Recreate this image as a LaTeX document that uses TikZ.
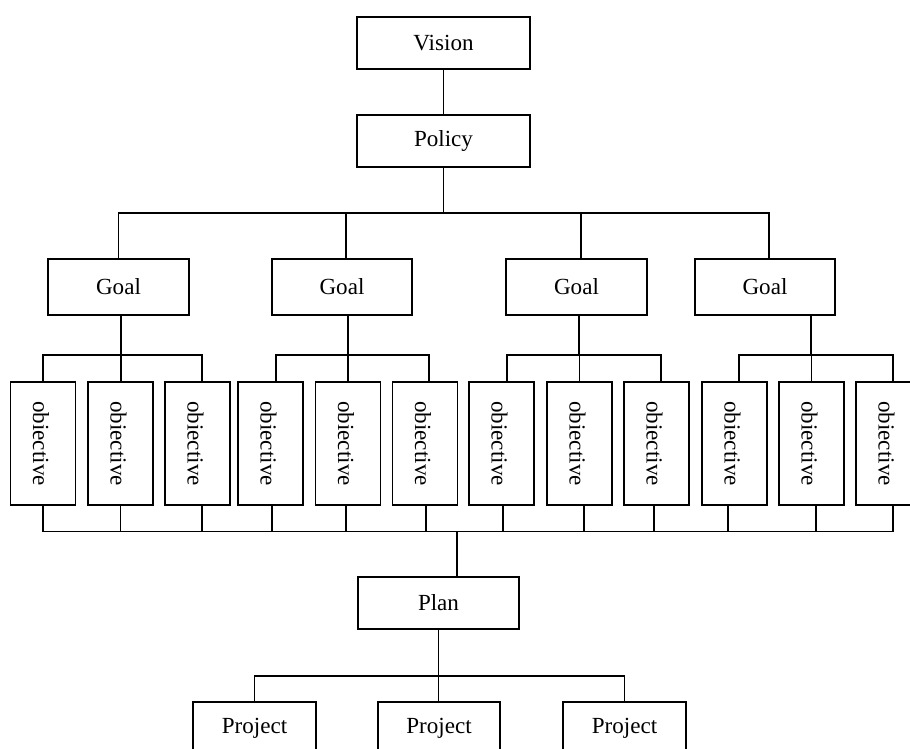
\documentclass[tikz,border=0pt]{standalone}
\usepackage{fontspec}
\setmainfont{Liberation Serif}
\usetikzlibrary{calc}
\begin{document}
\begin{tikzpicture}[x=0.75pt,y=-0.75pt,line width=1.1pt,
  box/.style={draw,line width=1.1pt,inner sep=0pt,fill=white,font=\fontsize{17.3}{20}\selectfont},
  sz/.style 2 args={minimum width=#1*0.75pt,minimum height=#2*0.75pt},
  objbox/.style={box,sz={65}{123}}]
\useasboundingbox (0,0) rectangle (910,749);
\clip (0,0) rectangle (910,749);
\fill[white] (0,0) rectangle (910,749);

% top
\node[box,sz={173}{52}] (vision) at (443.5,43) {Vision};
\node[box,sz={173}{52}] (policy) at (443.5,141) {Policy};

% goals
\node[box,sz={141}{56}] (g1) at (118.5,287) {Goal};
\node[box,sz={140}{56}] (g2) at (342,287) {Goal};
\node[box,sz={141}{56}] (g3) at (576.5,287) {Goal};
\node[box,sz={140}{56}] (g4) at (765,287) {Goal};

% objectives
\foreach \i/\x in {1/43,2/120.5,3/197.5,4/270.5,5/348,6/425,7/501.5,8/579.5,9/656.5,10/734.5,11/811.5,12/888.5}{
  \node[objbox] (o\i) at (\x,443.5) {\hspace*{-3pt}\rotatebox{-90}{obiective}};
}

% plan and projects
\node[box,sz={161}{52}] (plan) at (438.5,603) {Plan};
\node[box,sz={123}{52}] (p1) at (254.5,728) {Project};
\node[box,sz={122}{52}] (p2) at (439,728) {Project};
\node[box,sz={123}{52}] (p3) at (624.5,728) {Project};

% bus levels
\coordinate (tb) at (0,213);
\coordinate (ob) at (0,355);
\coordinate (bb) at (0,531.5);
\coordinate (pb) at (0,676);

% vision - policy
\draw (vision.south) -- (policy.north);

% policy - goals
\draw (policy.south) -- (policy.south |- tb);
\draw (g1.north) -- (g1.north |- tb) -- ($(g4.north |- tb)+(4,0)$) -- ($(g4.north)+(4,0)$);
\draw ($(g2.north)+(4,0)$) -- ($(g2.north |- tb)+(4,0)$);
\draw ($(g3.north)+(4.5,0)$) -- ($(g3.north |- tb)+(4.5,0)$);

% goal 1 - objectives
\draw ($(g1.south)+(2.5,0)$) -- ($(g1.south |- ob)+(2.5,0)$);
\draw (o1.north) -- (o1.north |- ob) -- ($(o3.north |- ob)+(4.5,0)$) -- ($(o3.north)+(4.5,0)$);
\draw ($(o2.north)+(0.5,0)$) -- ($(o2.north |- ob)+(0.5,0)$);

% goal 2 - objectives
\draw ($(g2.south)+(6,0)$) -- ($(g2.south |- ob)+(6,0)$);
\draw ($(o4.north)+(5.5,0)$) -- ($(o4.north |- ob)+(5.5,0)$) -- ($(o6.north |- ob)+(4,0)$) -- ($(o6.north)+(4,0)$);
\draw (o5.north) -- (o5.north |- ob);

% goal 3 - objectives
\draw ($(g3.south)+(2.5,0)$) -- ($(g3.south |- ob)+(2.5,0)$);
\draw ($(o7.north)+(5.5,0)$) -- ($(o7.north |- ob)+(5.5,0)$) -- ($(o9.north |- ob)+(4.5,0)$) -- ($(o9.north)+(4.5,0)$);
\draw (o8.north) -- (o8.north |- ob);

% goal 4 - objectives
\draw ($(g4.south)+(46,0)$) -- ($(g4.south |- ob)+(46,0)$);
\draw ($(o10.north)+(4.5,0)$) -- ($(o10.north |- ob)+(4.5,0)$) -- ($(o12.north |- ob)+(4.5,0)$) -- ($(o12.north)+(4.5,0)$);
\draw (o11.north) -- (o11.north |- ob);

% objectives - bottom bus
\draw (o1.south |- bb) -- ($(o12.south |- bb)+(4.5,0)$);
\foreach \i/\d in {1/0,2/0,3/4.5,4/1.5,5/-2,6/1,7/1.5,8/4.5,9/-2.5,10/-6.5,11/4.5,12/4.5}{
  \draw ($(o\i.south)+(\d,0)$) -- ($(o\i.south |- bb)+(\d,0)$);
}

% bottom bus - plan
\draw ($(plan.north |- bb)+(18.5,0)$) -- ($(plan.north)+(18.5,0)$);

% plan - projects
\draw (plan.south) -- (plan.south |- p2.north);
\draw (p1.north) -- (p1.north |- pb) -- (p3.north |- pb) -- (p3.north);
\end{tikzpicture}
\end{document}
